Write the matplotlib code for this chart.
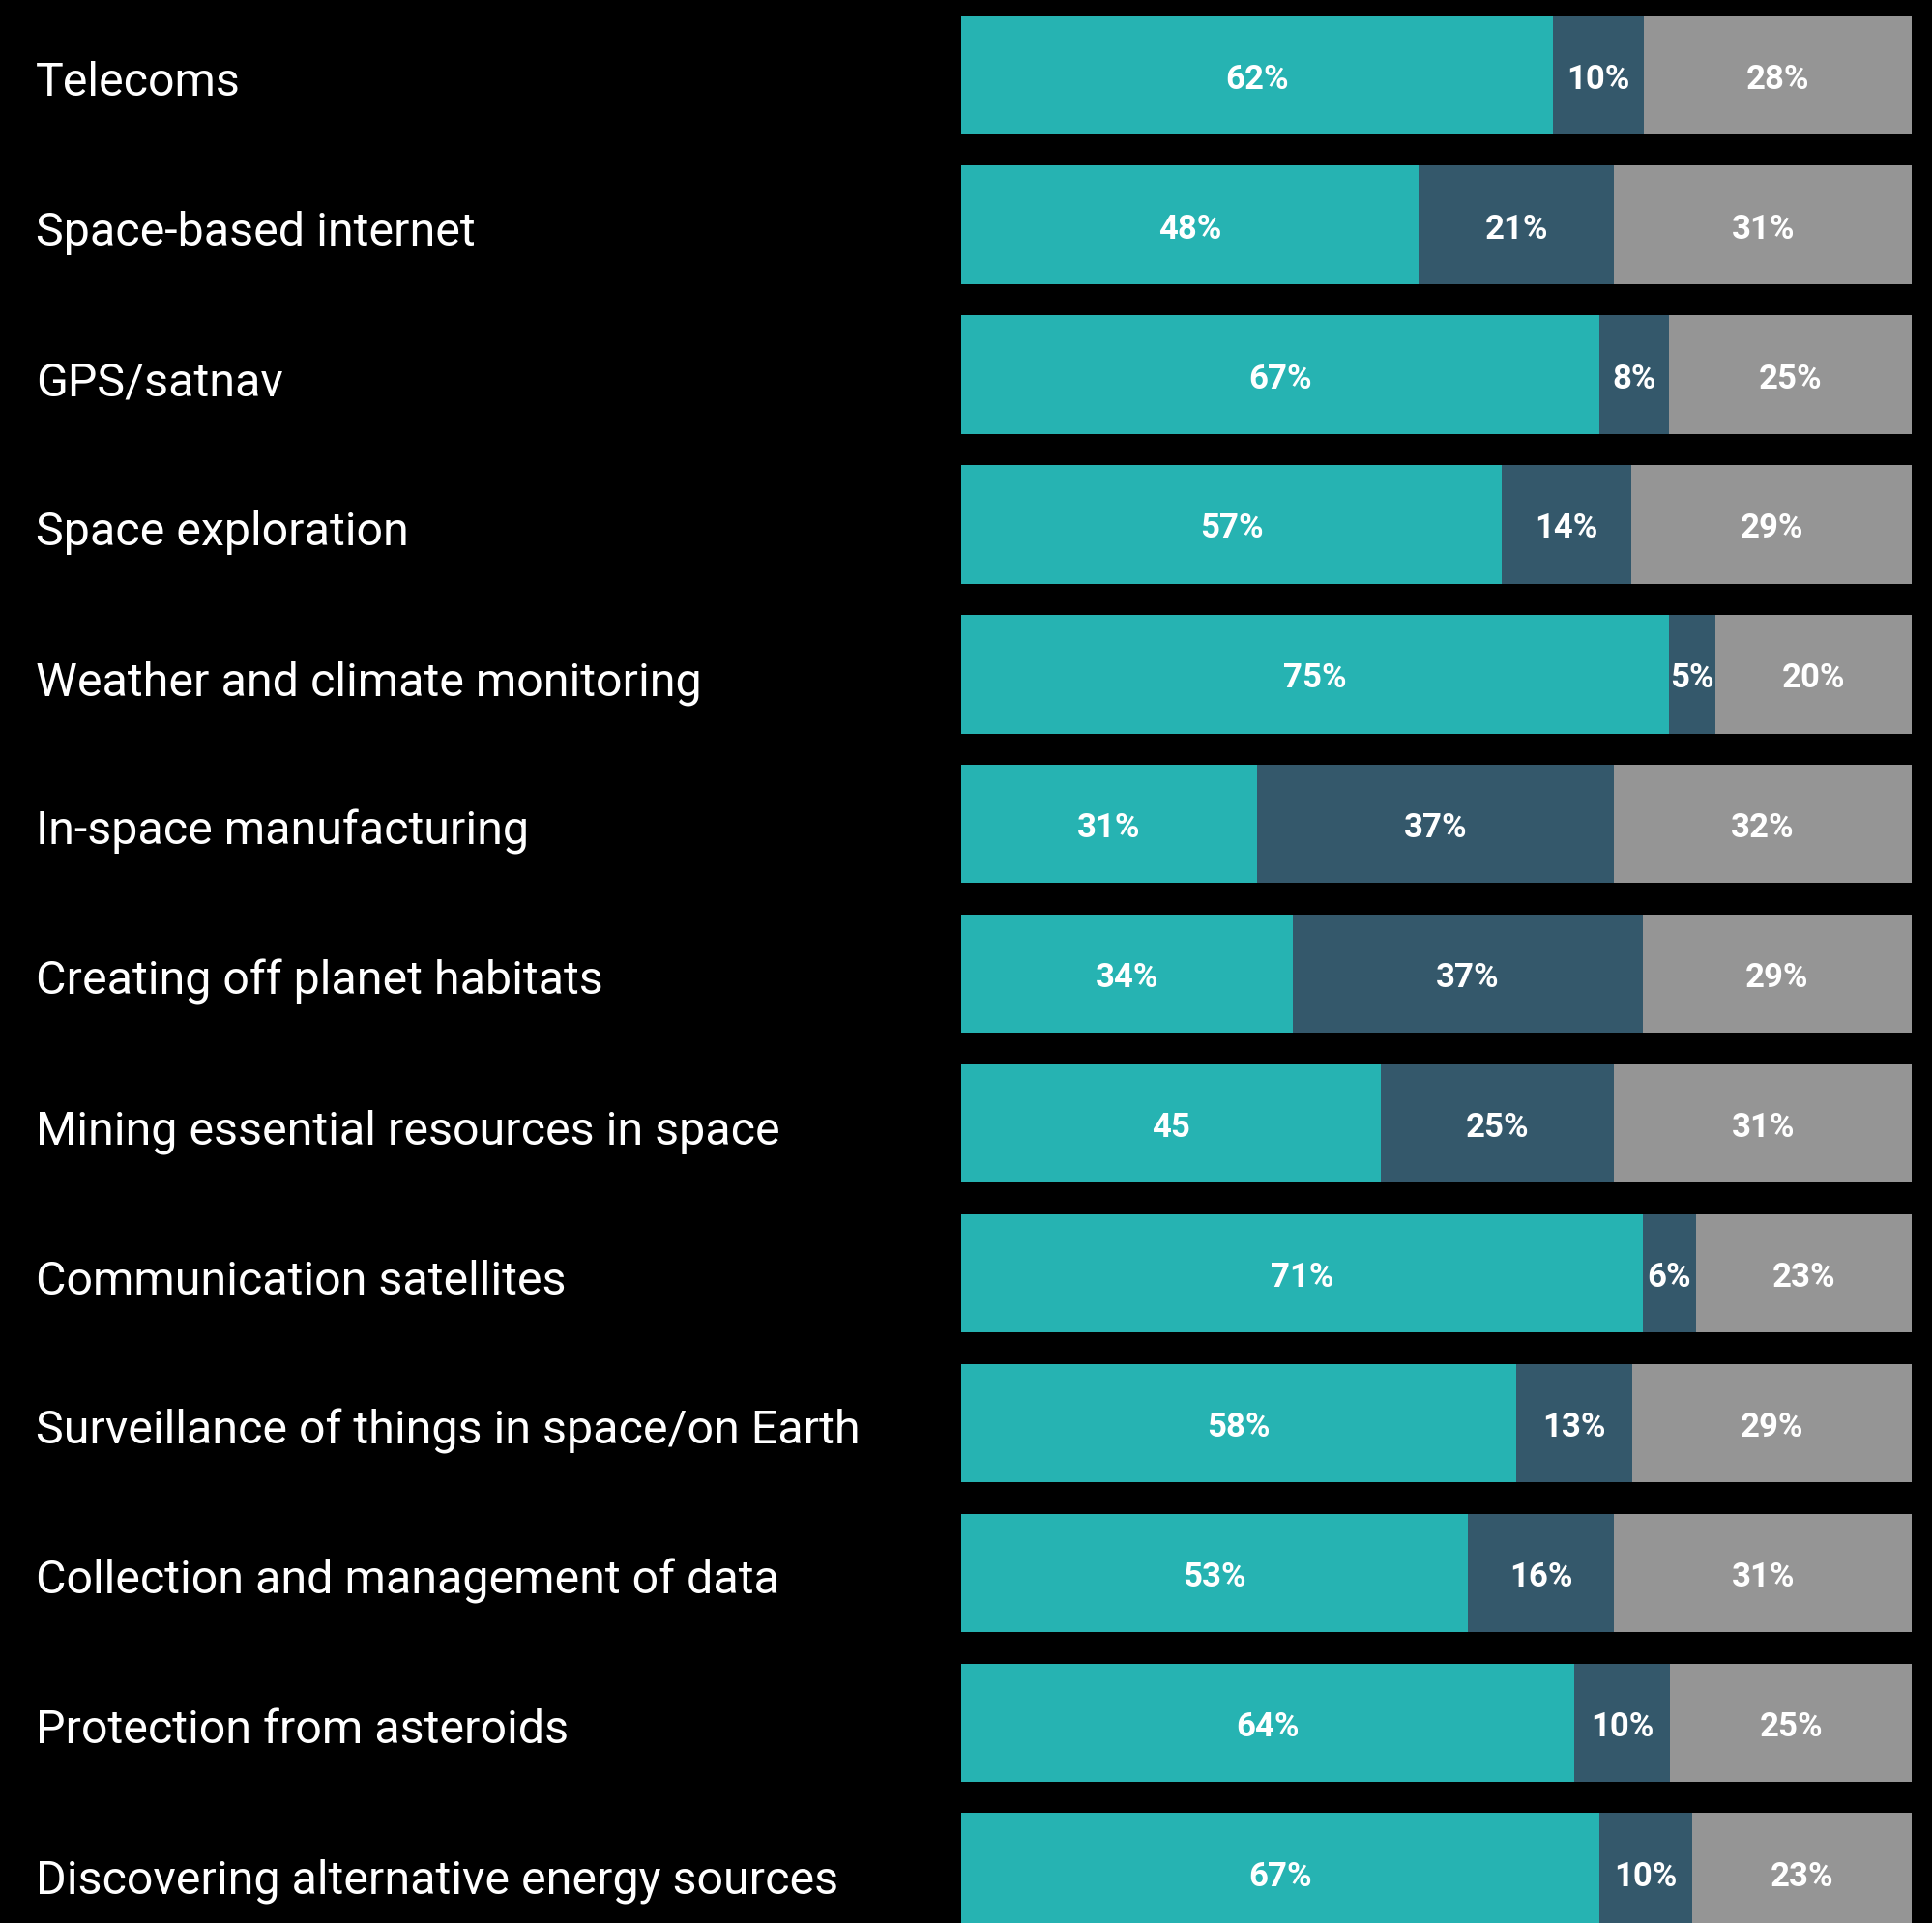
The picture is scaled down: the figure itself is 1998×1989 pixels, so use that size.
"""
Stacked horizontal bars: opinion split for each space activity.
"""

import numpy as np
from matplotlib import pyplot as plt
from matplotlib import transforms

categories = [
    "Telecoms",
    "Space-based internet",
    "GPS/satnav",
    "Space exploration",
    "Weather and climate monitoring",
    "In-space manufacturing",
    "Creating off planet habitats",
    "Mining essential resources in space",
    "Communication satellites",
    "Surveillance of things in space/on Earth",
    "Collection and management of data",
    "Protection from asteroids",
    "Discovering alternative energy sources",
]
# segment widths as measured off the bars (the printed labels are rounded)
first = [62.3, 48.1, 67.1, 56.9, 74.5, 31.1, 34.9, 44.2, 71.7, 58.4, 53.3, 64.5, 67.1]
second = [9.5, 20.6, 7.4, 13.6, 4.8, 37.6, 36.8, 24.5, 5.6, 12.2, 15.4, 10.1, 9.8]
third = [28.2, 31.3, 25.5, 29.5, 20.7, 31.3, 28.3, 31.3, 22.7, 29.4, 31.3, 25.4, 23.1]

first_labels = ["62%", "48%", "67%", "57%", "75%", "31%", "34%", "45",
                "71%", "58%", "53%", "64%", "67%"]
second_labels = ["10%", "21%", "8%", "14%", "5%", "37%", "37%", "25%",
                 "6%", "13%", "16%", "10%", "10%"]
third_labels = ["28%", "31%", "25%", "29%", "20%", "32%", "29%", "31%",
                "23%", "29%", "31%", "25%", "23%"]

colors = ["#26b3b2", "#34586b", "#959595"]


def main():
    fig = plt.figure(figsize=(19.99, 19.89), dpi=100, facecolor="black")
    ax = fig.add_axes([994 / 1999, 0, 983 / 1999, 1])
    ax.set_facecolor("black")

    y = np.arange(len(categories))
    vals = np.array([first, second, third], dtype=float)
    shares = vals / vals.sum(axis=0) * 100
    texts = [first_labels, second_labels, third_labels]

    left = np.zeros(len(categories))
    for share, col, labels in zip(shares, colors, texts):
        ax.barh(y, share, left=left, height=0.79, color=col, linewidth=0)
        for yi, l, w, t in zip(y, left, share, labels):
            ax.text(l + w / 2, yi + 0.09, t, ha="center", va="baseline",
                    color="white", fontsize=25, fontweight="bold",
                    family="Roboto")
        left += share

    ax.set_xlim(0, 100)
    ax.set_ylim(12.338, -0.502)
    ax.axis("off")

    trans = transforms.blended_transform_factory(fig.transFigure, ax.transData)
    for yi, name in zip(y, categories):
        ax.text(37 / 1999, yi + 0.14, name, transform=trans, ha="left",
                va="baseline", color="white", fontsize=34.8, family="Roboto")

    fig.savefig("out.png", facecolor="black")


if __name__ == "__main__":
    main()
